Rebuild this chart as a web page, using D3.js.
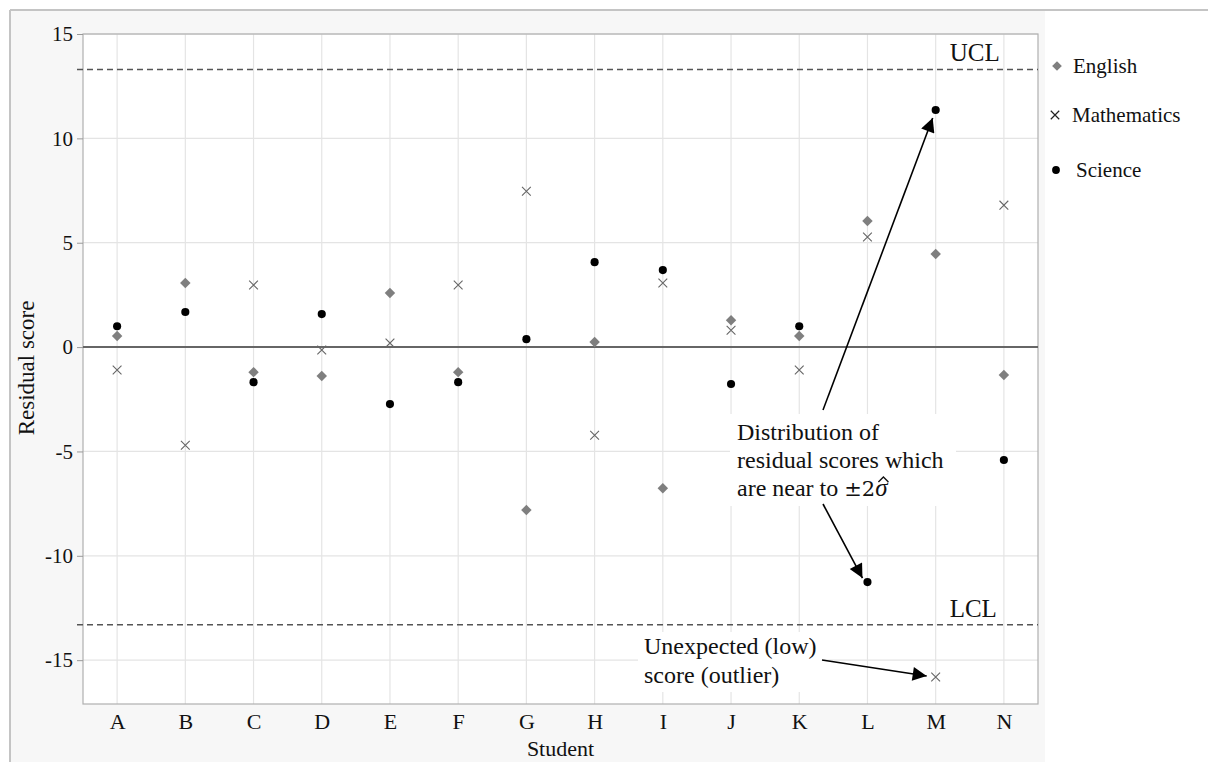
<!DOCTYPE html>
<html>
<head>
<meta charset="utf-8">
<script src="https://cdn.jsdelivr.net/npm/d3@7"></script>
<style>
  html, body { margin: 0; padding: 0; background: #ffffff; }
  svg { display: block; }
  text { font-family: "Liberation Serif", "Times New Roman", serif; fill: #111; }
</style>
</head>
<body>
<svg id="chart" width="1208" height="762"></svg>
<script>
// Residual scores per student, by subject
const students = ["A","B","C","D","E","F","G","H","I","J","K","L","M","N"];
const english     = [0.53, 3.07, -1.2, -1.39, 2.59, -1.2, -7.81, 0.24, -6.76, 1.29, 0.53, 6.04, 4.46, -1.34];
const mathematics = [-1.1, -4.7, 2.97, -0.14, 0.19, 2.97, 7.47, -4.22, 3.07, 0.81, -1.1, 5.27, -15.81, 6.8];
const science     = [1.0, 1.68, -1.68, 1.58, -2.73, -1.68, 0.38, 4.07, 3.69, -1.77, 1.0, -11.26, 11.36, -5.41];
const yTicks = [-15, -10, -5, 0, 5, 10, 15];
const controlLimits = { UCL: 13.3, LCL: -13.3 };
const legendLabels = ["English", "Mathematics", "Science"];

const svg = d3.select("#chart");
const W = 1208, H = 762;
const plot = { left: 83, top: 34, right: 1038, bottom: 704 };

// Background panels and outer frame
svg.append("rect").attr("x", 0).attr("y", 0).attr("width", W).attr("height", H).attr("fill", "#ffffff");
svg.append("rect").attr("x", 11).attr("y", 11).attr("width", 1034).attr("height", H - 11).attr("fill", "#f7f7f7");
svg.append("line").attr("x1", 10).attr("x2", W).attr("y1", 10).attr("y2", 10).attr("stroke", "#c4c4c4").attr("stroke-width", 2);
svg.append("line").attr("x1", 10).attr("x2", 10).attr("y1", 10).attr("y2", H).attr("stroke", "#c4c4c4").attr("stroke-width", 2);

const x = d3.scalePoint().domain(students).range([plot.left, plot.right]).padding(0.5);
const y = d3.scaleLinear().domain([-17.1, 15]).range([plot.bottom, plot.top]);

// Plot area
svg.append("rect").attr("x", plot.left).attr("y", plot.top)
  .attr("width", plot.right - plot.left).attr("height", plot.bottom - plot.top)
  .attr("fill", "#ffffff");

// Grid
const grid = svg.append("g");
grid.selectAll("line.v").data(students).join("line")
  .attr("x1", d => x(d)).attr("x2", d => x(d))
  .attr("y1", plot.top).attr("y2", plot.bottom)
  .attr("stroke", "#e4e4e4").attr("stroke-width", 1.2);
grid.selectAll("line.h").data(yTicks.filter(t => t !== 0)).join("line")
  .attr("x1", plot.left).attr("x2", plot.right)
  .attr("y1", d => y(d)).attr("y2", d => y(d))
  .attr("stroke", "#e4e4e4").attr("stroke-width", 1.2);

// Frame
svg.append("rect").attr("x", plot.left).attr("y", plot.top)
  .attr("width", plot.right - plot.left).attr("height", plot.bottom - plot.top)
  .attr("fill", "none").attr("stroke", "#b0b0b0").attr("stroke-width", 1.2);

// Axes (plain hyphen for negative tick labels)
const yAxis = svg.append("g").attr("transform", `translate(${plot.left},0)`)
  .call(d3.axisLeft(y).tickValues(yTicks).tickSize(6).tickPadding(4).tickFormat(d => String(d)));
yAxis.select(".domain").remove();
yAxis.selectAll(".tick line").attr("stroke", "#999");
yAxis.selectAll(".tick text").attr("font-size", 21).attr("font-family", "Liberation Serif").attr("fill", "#111");

const xAxis = svg.append("g").attr("transform", `translate(0,${plot.bottom})`)
  .call(d3.axisBottom(x).tickSize(0).tickPadding(9));
xAxis.select(".domain").remove();
xAxis.selectAll(".tick text").attr("font-size", 22).attr("font-family", "Liberation Serif").attr("fill", "#111");

svg.append("text").attr("x", (plot.left + plot.right) / 2).attr("y", 756)
  .attr("text-anchor", "middle").attr("font-size", 22).text("Student");
svg.append("text").attr("transform", `translate(34,${y(-1)}) rotate(-90)`)
  .attr("text-anchor", "middle").attr("font-size", 23).text("Residual score");

// Zero reference line
svg.append("line").attr("x1", plot.left).attr("x2", plot.right)
  .attr("y1", y(0)).attr("y2", y(0)).attr("stroke", "#666").attr("stroke-width", 2);

// Control limits
Object.entries(controlLimits).forEach(([name, v]) => {
  svg.append("line").attr("x1", plot.left - 6).attr("x2", plot.right)
    .attr("y1", y(v)).attr("y2", y(v))
    .attr("stroke", "#555").attr("stroke-width", 1.4).attr("stroke-dasharray", "6,4");
  svg.append("text").attr("x", x("M") + 14).attr("y", y(v) - 8)
    .attr("font-size", 25).text(name);
});

// Annotation boxes (white backgrounds hide grid)
const noteFill = "#ffffff";
svg.append("rect").attr("x", 730).attr("y", 414).attr("width", 226).attr("height", 92).attr("fill", noteFill);
svg.append("rect").attr("x", 638).attr("y", 632).attr("width", 186).attr("height", 60).attr("fill", noteFill);

// Markers
const diamond = d3.symbol().type(d3.symbolDiamond2).size(70);
const cross = d3.symbol().type(d3.symbolTimes).size(52);
const circle = d3.symbol().type(d3.symbolCircle).size(52);

const marks = svg.append("g");
marks.selectAll("path.eng").data(english).join("path")
  .attr("transform", (d, i) => `translate(${x(students[i])},${y(d)})`)
  .attr("d", diamond).attr("fill", "#7f7f7f");
marks.selectAll("path.math").data(mathematics).join("path")
  .attr("transform", (d, i) => `translate(${x(students[i])},${y(d)})`)
  .attr("d", cross).attr("fill", "none").attr("stroke", "#666").attr("stroke-width", 1.1);
marks.selectAll("path.sci").data(science).join("path")
  .attr("transform", (d, i) => `translate(${x(students[i])},${y(d)})`)
  .attr("d", circle).attr("fill", "#000");

// Arrows
const defs = svg.append("defs");
defs.append("marker").attr("id", "head").attr("viewBox", "0 0 10 10")
  .attr("refX", 10).attr("refY", 5).attr("markerWidth", 16).attr("markerHeight", 14)
  .attr("markerUnits", "userSpaceOnUse").attr("orient", "auto")
  .append("path").attr("d", "M0,0 L10,5 L0,10 Z").attr("fill", "#000");

function arrow(x1, y1, x2, y2) {
  svg.append("line").attr("x1", x1).attr("y1", y1).attr("x2", x2).attr("y2", y2)
    .attr("stroke", "#000").attr("stroke-width", 1.6).attr("marker-end", "url(#head)");
}
const mIdx = students.indexOf("M"), lIdx = students.indexOf("L");
arrow(823, 410, x("M") - 3, y(science[mIdx]) + 8);
arrow(823, 504, x("L") - 5, y(science[lIdx]) - 4);
arrow(822, 660, x("M") - 9, y(mathematics[mIdx]) - 1);

// Annotation text
const note1 = svg.append("text").attr("font-size", 24);
note1.append("tspan").attr("x", 737).attr("y", 440).text("Distribution of");
note1.append("tspan").attr("x", 737).attr("y", 468).text("residual scores which");
const l3 = note1.append("tspan").attr("x", 737).attr("y", 496);
l3.append("tspan").text("are near to ");
l3.append("tspan").attr("font-family", "DejaVu Serif").attr("font-size", 21).text("±2");
const sigma = l3.append("tspan").attr("font-style", "italic").attr("font-size", 25).text("σ");

// Hat over sigma, drawn as a small stroke
const sigmaIdx = note1.text().length - 1;
const ext = note1.node().getExtentOfChar(sigmaIdx);
const hx = ext.x + ext.width / 2 + 2, hy = 496 - 17;
svg.append("path")
  .attr("d", `M${hx - 5},${hy + 3} L${hx},${hy - 2} L${hx + 5},${hy + 3}`)
  .attr("fill", "none").attr("stroke", "#111").attr("stroke-width", 1.4);

const note2 = svg.append("text").attr("font-size", 24);
note2.append("tspan").attr("x", 644).attr("y", 654).text("Unexpected (low)");
note2.append("tspan").attr("x", 644).attr("y", 683).text("score (outlier)");

// Legend
const legend = svg.append("g");
const legendY = [66, 115, 170];
legend.append("path").attr("transform", `translate(1057,${legendY[0]})`)
  .attr("d", d3.symbol().type(d3.symbolDiamond2).size(60)).attr("fill", "#7f7f7f");
legend.append("path").attr("transform", `translate(1055,${legendY[1]})`)
  .attr("d", d3.symbol().type(d3.symbolTimes).size(48)).attr("fill", "none")
  .attr("stroke", "#222").attr("stroke-width", 1.2);
legend.append("path").attr("transform", `translate(1056,${legendY[2]})`)
  .attr("d", d3.symbol().type(d3.symbolCircle).size(48)).attr("fill", "#000");
const legendX = [1073, 1072, 1076];
legend.selectAll("text").data(legendLabels).join("text")
  .attr("x", (d, i) => legendX[i]).attr("y", (d, i) => legendY[i] + 7)
  .attr("font-size", 21).text(d => d);
</script>
</body>
</html>
